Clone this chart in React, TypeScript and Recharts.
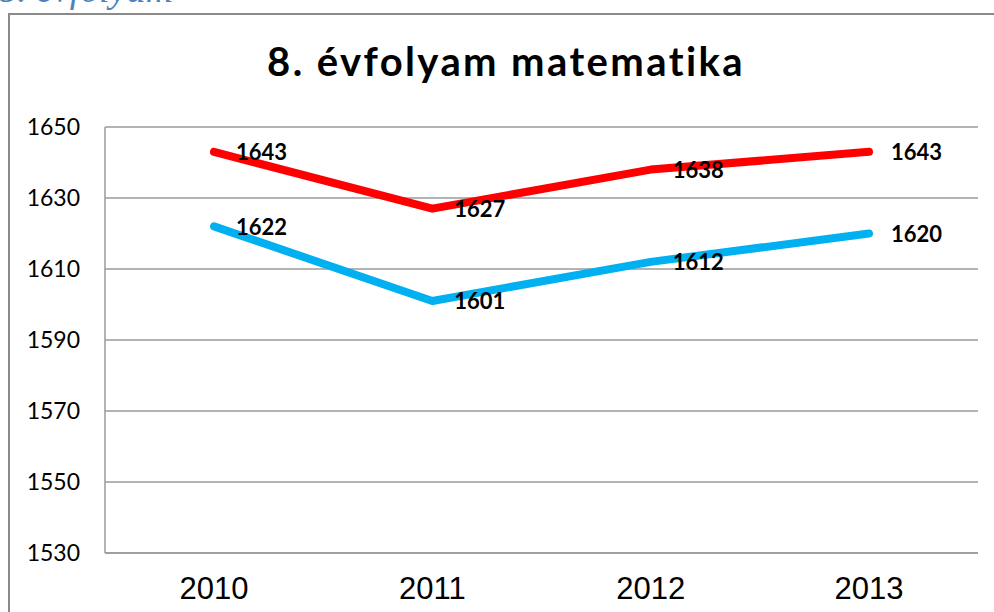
import React from 'react'
import { LineChart, Line, XAxis, YAxis, CartesianGrid, LabelList } from 'recharts'

// years on the x axis
const years = ['2010', '2011', '2012', '2013']
// upper (red) series
const redValues = [1643, 1627, 1638, 1643]
// lower (blue) series
const blueValues = [1622, 1601, 1612, 1620]
const yTicks = [1530, 1550, 1570, 1590, 1610, 1630, 1650]

const chartData = years.map((year, i) => ({
  year,
  red: redValues[i],
  blue: blueValues[i],
}))

const labelFont = 'Lato, "Open Sans", sans-serif'

// data labels sit to the right of each point, like Excel's "right" position
const PointLabel = (props: any) => {
  const { x, y, value } = props
  return (
    <text
      x={x + 22}
      y={y}
      dominantBaseline="central"
      textAnchor="start"
      fontFamily={labelFont}
      fontWeight="bold"
      fontSize={22}
      fill="#000"
    >
      {value}
    </text>
  )
}

export default function App() {
  return (
    <div
      style={{
        position: 'absolute',
        left: 0,
        top: 0,
        width: 994,
        height: 612,
        overflow: 'hidden',
        background: '#fff',
      }}
    >
      {/* heading from the page above, mostly cut off */}
      <div
        style={{
          position: 'absolute',
          left: -2,
          top: -26,
          fontFamily: '"Liberation Serif", serif',
          fontStyle: 'italic',
          fontSize: 38,
          color: '#4f81bd',
          lineHeight: '30px',
          whiteSpace: 'nowrap',
        }}
      >
        8. évfolyam
      </div>

      {/* chart frame */}
      <div
        style={{
          position: 'absolute',
          left: 8,
          top: 13,
          width: 1000,
          height: 640,
          border: '2px solid #8a8a8a',
          boxSizing: 'border-box',
        }}
      />

      <div
        style={{
          position: 'absolute',
          left: 0,
          top: 41,
          width: 1012,
          textAlign: 'center',
          fontFamily: labelFont,
          fontWeight: 'bold',
          fontSize: 40,
          letterSpacing: 2.4,
          lineHeight: '40px',
          color: '#000',
        }}
      >
        8. évfolyam matematika
      </div>

      <div style={{ position: 'absolute', left: 0, top: 0 }}>
        <LineChart
          width={994}
          height={612}
          data={chartData}
          margin={{ top: 127, right: 16, left: 45, bottom: 9 }}
        >
          <CartesianGrid vertical={false} stroke="#9a9a9a" strokeWidth={1.5} />
          <XAxis
            dataKey="year"
            height={50}
            padding={{ left: 109, right: 109 }}
            axisLine={{ stroke: '#9a9a9a', strokeWidth: 1.5 }}
            tickLine={false}
            tickMargin={18}
            tick={{ fill: '#000', fontSize: 31, fontFamily: '"Liberation Sans", Arial, sans-serif' }}
          />
          <YAxis
            width={60}
            domain={[1530, 1650]}
            ticks={yTicks}
            interval={0}
            axisLine={{ stroke: '#9a9a9a', strokeWidth: 1.5 }}
            tickLine={false}
            tickMargin={19}
            tick={{ fill: '#000', fontSize: 23, fontFamily: labelFont }}
          />
          <Line
            dataKey="red"
            stroke="#ff0000"
            strokeWidth={8}
            strokeLinecap="round"
            strokeLinejoin="round"
            dot={false}
            isAnimationActive={false}
          >
            <LabelList dataKey="red" content={<PointLabel />} />
          </Line>
          <Line
            dataKey="blue"
            stroke="#00b0f0"
            strokeWidth={8}
            strokeLinecap="round"
            strokeLinejoin="round"
            dot={false}
            isAnimationActive={false}
          >
            <LabelList dataKey="blue" content={<PointLabel />} />
          </Line>
        </LineChart>
      </div>
    </div>
  )
}
